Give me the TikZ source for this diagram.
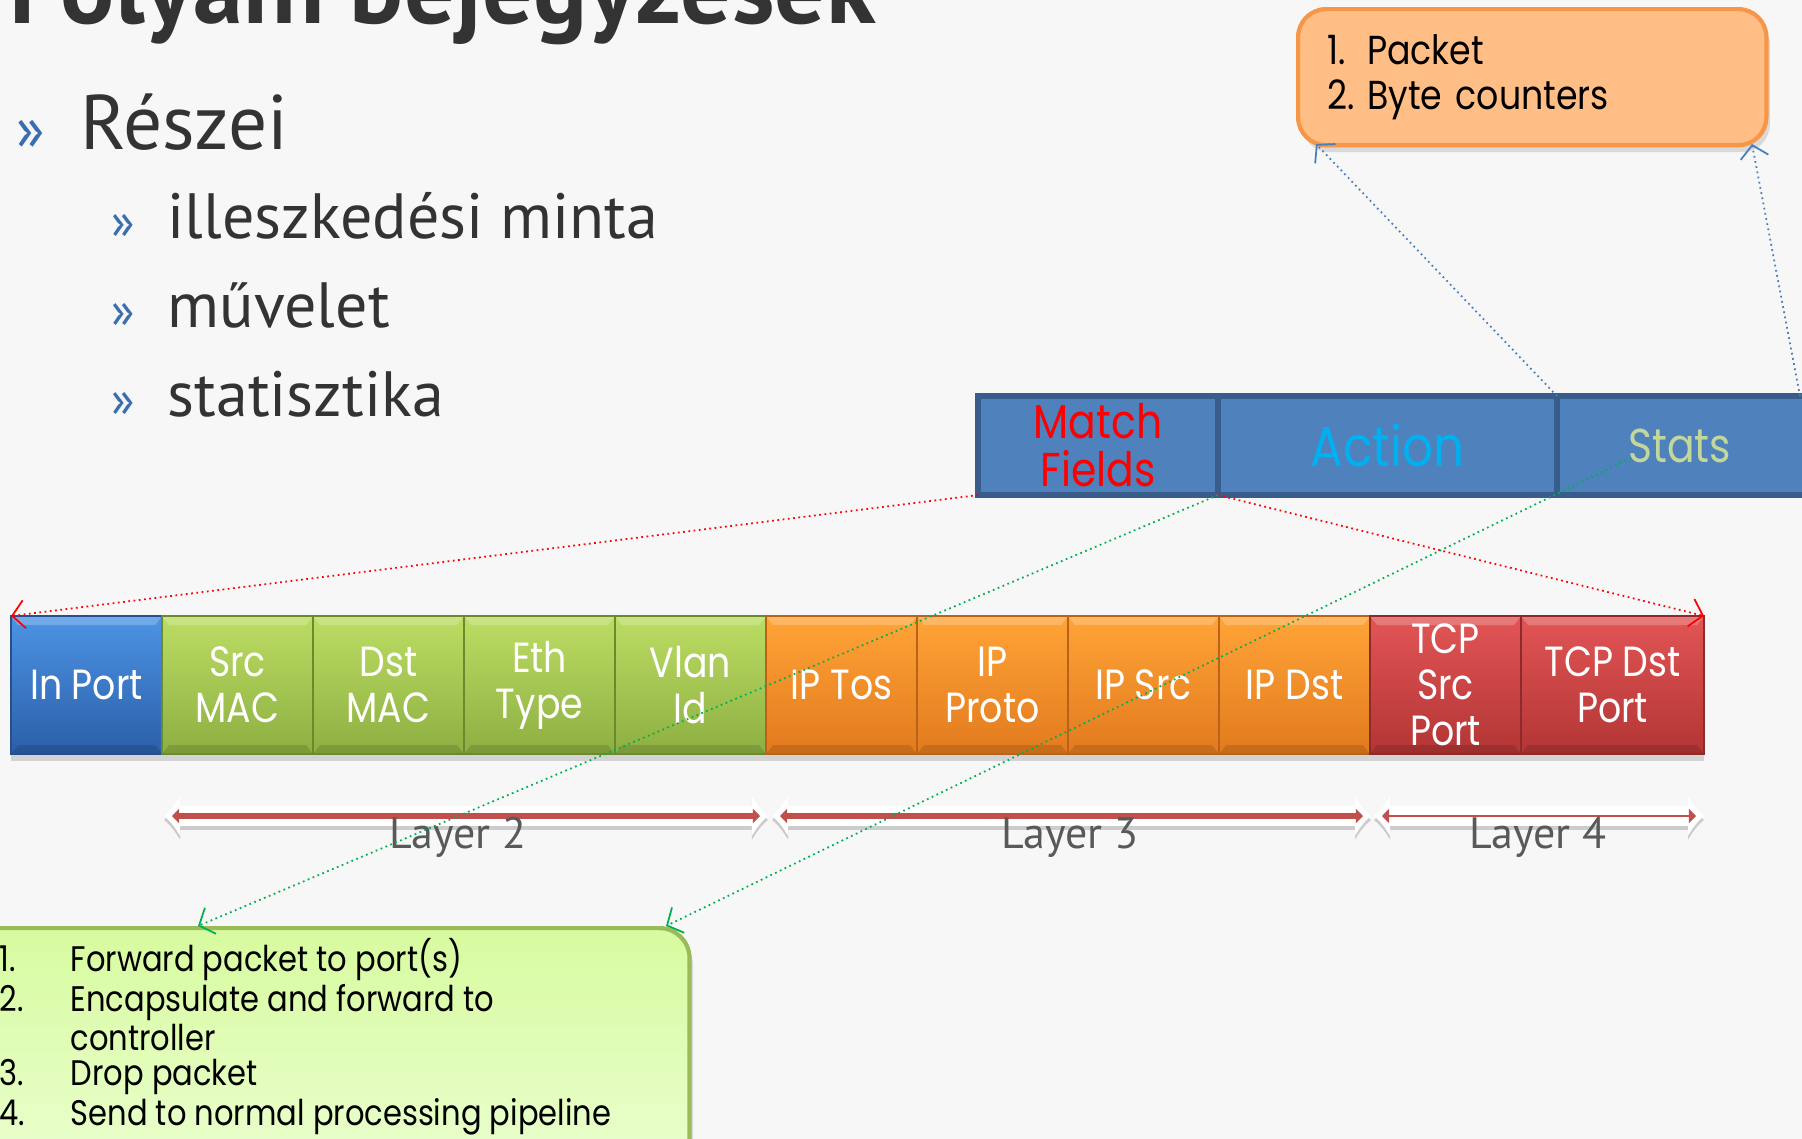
\documentclass[tikz,border=0pt]{standalone}
\usepackage{fontspec}
\setmainfont{PT Sans}
\newfontfamily\gothic[FakeStretch=0.86]{Poppins}
\usetikzlibrary{arrows.meta}
\usetikzlibrary{shadows}
\usetikzlibrary{calc}
\usetikzlibrary{positioning}
\definecolor{slidebg}{HTML}{F7F7F7}
\definecolor{darktext}{HTML}{333333}
\definecolor{bulletblue}{HTML}{3A6EAE}
\definecolor{tabfill}{HTML}{4F81BD}
\definecolor{tabline}{HTML}{385D8A}
\definecolor{matchred}{HTML}{FF0000}
\definecolor{actblue}{HTML}{00B0F0}
\definecolor{statgreen}{HTML}{C3D69B}
\definecolor{l1top}{HTML}{4C94E4}
\definecolor{l1bot}{HTML}{2C5EA8}
\definecolor{l1line}{HTML}{26508C}
\definecolor{l2top}{HTML}{BCDD63}
\definecolor{l2bot}{HTML}{8DAF42}
\definecolor{l2line}{HTML}{6B8A2E}
\definecolor{l3top}{HTML}{FFA437}
\definecolor{l3bot}{HTML}{E27A1E}
\definecolor{l3line}{HTML}{B8621A}
\definecolor{l4top}{HTML}{E25555}
\definecolor{l4bot}{HTML}{B33535}
\definecolor{l4line}{HTML}{8E2A2A}
\definecolor{cntfill}{HTML}{FFBE86}
\definecolor{cntline}{HTML}{F79646}
\definecolor{actfill}{HTML}{D7FB9F}
\definecolor{actlight}{HTML}{EBFFD2}
\definecolor{actline}{HTML}{9BBB59}
\definecolor{bandred}{HTML}{C0504D}
\definecolor{layergray}{HTML}{595959}
\definecolor{dotgreen}{HTML}{00B050}
\definecolor{dotblue}{HTML}{4A7EBB}

\begin{document}
\begin{tikzpicture}[x=0.01cm, y=-0.01cm,
    hdr/.style={draw=tabline, line width=1.8pt, fill=tabfill, minimum height=0.99cm,
      inner sep=0pt, outer sep=0pt, anchor=north west, align=center,
      font=\gothic\fontsize{13.5}{13.7}\selectfont},
    field/.style={minimum height=1.38cm, inner sep=0pt, outer sep=0pt, anchor=north west,
      text=white, align=center, line width=0.7pt, font=\gothic\fontsize{12}{13.1}\selectfont,
      path picture={
        \fill[white, opacity=0.22] (path picture bounding box.north west) -- (path picture bounding box.north east)
          -- ($(path picture bounding box.north east)+(-7,9)$) -- ($(path picture bounding box.north west)+(7,9)$) -- cycle;
        \fill[black, opacity=0.12] (path picture bounding box.south west) -- (path picture bounding box.south east)
          -- ($(path picture bounding box.south east)+(-7,-9)$) -- ($(path picture bounding box.south west)+(7,-9)$) -- cycle;
      }},
    dotarrow/.style={densely dotted, line width=0.5pt, -{Straight Barb[length=3.5pt,width=8pt]}},
    layer/.style={anchor=base, text=layergray, font=\fontsize{12.5}{14}\selectfont}]
  \path[use as bounding box] (0, 0) rectangle (1802, 1139);
  \fill[slidebg] (0, 0) rectangle (1802, 1139);
  \clip (0, 0) rectangle (1802, 1139);

  % title and bullets
  \node[anchor=base west, inner sep=0, text=darktext, font=\fontsize{28.7}{32}\selectfont\bfseries] (title) at (9, 23) {Folyam bejegyzések};
  \node[anchor=base west, inner sep=0, text=bulletblue, font=\fontsize{17}{20}\selectfont] (mark1) at (16, 149) {»};
  \node[anchor=base west, inner sep=0, text=darktext, font=\fontsize{22}{26}\selectfont] (reszei) at (80, 149) {Részei};
  \foreach \n/\y/\txt in {minta/238/illeszkedési minta, muvelet/327/művelet, stat/416/statisztika} {
    \node[anchor=base west, inner sep=0, text=bulletblue, font=\fontsize{14}{16}\selectfont] (mark\n) at (111, \y) {»};
    \node[anchor=base west, inner sep=0, text=darktext, font=\fontsize{18.2}{22}\selectfont] (\n) at (167, \y) {\txt};
  }

  % flow entry
  \node[hdr, minimum width=2.4cm, text=matchred] (match) at (978, 396) {Match\\Fields};
  \node[hdr, minimum width=3.39cm, text=actblue, font=\gothic\fontsize{16}{16}\selectfont] (action) at (1218, 396) {Action};
  \node[hdr, minimum width=2.73cm, text=statgreen] (stats) at (1557, 396) {\hspace*{-0.28cm}Stats};

  % header fields
  \foreach \n/\x/\w/\sty/\txt in {inport/11/1.51/l1/In Port, srcmac/162/1.51/l2/Src\\MAC,
      dstmac/313/1.51/l2/Dst\\MAC, ethtype/464/1.51/l2/Eth\\Type, vlanid/615/1.51/l2/Vlan\\Id,
      iptos/766/1.51/l3/IP Tos, ipproto/917/1.51/l3/IP\\Proto, ipsrc/1068/1.51/l3/IP Src,
      ipdst/1219/1.51/l3/IP Dst, tcpsrc/1370/1.51/l4/TCP\\Src\\Port, tcpdst/1521/1.83/l4/TCP Dst\\Port}
    \node[field, minimum width=\w cm, draw=\sty line, top color=\sty top, bottom color=\sty bot,
      drop shadow={opacity=0.3, shadow xshift=0pt, shadow yshift=-2pt}] (\n) at (\x, 616) {\txt};

  % layers
  \foreach \a/\b/\w in {164/768/1.7pt, 772/1371/1.7pt, 1374/1704/0.4pt} {
    \draw[black!20, line width=0.2cm, {Latex[length=0.16cm,width=0.42cm]}-{Latex[length=0.16cm,width=0.42cm]}] (\a, 820) -- (\b, 820);
    \draw[white, line width=0.2cm, {Latex[length=0.16cm,width=0.42cm]}-{Latex[length=0.16cm,width=0.42cm]}] (\a, 816) -- (\b, 816);
    \draw[bandred, line width=\w, {Triangle[length=2pt,width=4pt]}-{Triangle[length=2pt,width=4pt]}] (\a + 8, 816) -- (\b - 8, 816);
  }
  \node[layer] (layer2) at (458, 848) {Layer 2};
  \node[layer] (layer3) at (1070, 848) {Layer 3};
  \node[layer] (layer4) at (1538, 848) {Layer 4};

  % counters
  \node[anchor=north west, draw=cntline, line width=1.2pt, fill=cntfill, rounded corners=0.28cm,
    minimum height=1.36cm, text width=4.1cm, inner xsep=0.29cm, align=left,
    font=\gothic\fontsize{11.5}{13}\selectfont,
    drop shadow={opacity=0.25, shadow xshift=1pt, shadow yshift=-2pt}] (counters) at (1296, 7)
    {\makebox[0.4cm][l]{1.}Packet\\\makebox[0.4cm][l]{2.}Byte counters};

  % actions
  \node[anchor=north west, draw=actline, line width=1.2pt, top color=actfill, bottom color=actlight,
    rounded corners=0.3cm, minimum width=7.3cm, minimum height=2.6cm,
    drop shadow={opacity=0.25, shadow xshift=1pt, shadow yshift=-2pt}] (actions) at (-43, 926) {};
  \node[anchor=north west, inner sep=0, align=left, font=\gothic\fontsize{10.1}{10}\selectfont] (actlist) at (-1, 938)
    {\makebox[0.71cm][l]{1.}Forward packet to port(s)\\
     \makebox[0.71cm][l]{2.}Encapsulate and forward to\\
     \makebox[0.71cm][l]{}controller\\
     \makebox[0.71cm][l]{3.}Drop packet\\
     \makebox[0.71cm][l]{4.}Send to normal processing pipeline};

  \coordinate (act1) at (198, 926);
  \coordinate (act2) at (666, 926);
  \coordinate (cnt1) at (1316, 144);
  \coordinate (cnt2) at (1752, 144);
  \coordinate (statsdot) at (1631, 458);
  \coordinate (tabend) at (1800, 396);

  \draw[dotarrow, matchred] (match.south west) -- (inport.north west);
  \draw[dotarrow, matchred] (match.south east) -- (tcpdst.north east);
  \draw[dotarrow, dotgreen] (action.south west) -- (act1);
  \draw[dotarrow, dotgreen] (statsdot) -- (act2);
  \draw[dotarrow, dotblue] (stats.north west) -- (cnt1);
  \draw[dotarrow, dotblue] (tabend) -- (cnt2);
\end{tikzpicture}
\end{document}
